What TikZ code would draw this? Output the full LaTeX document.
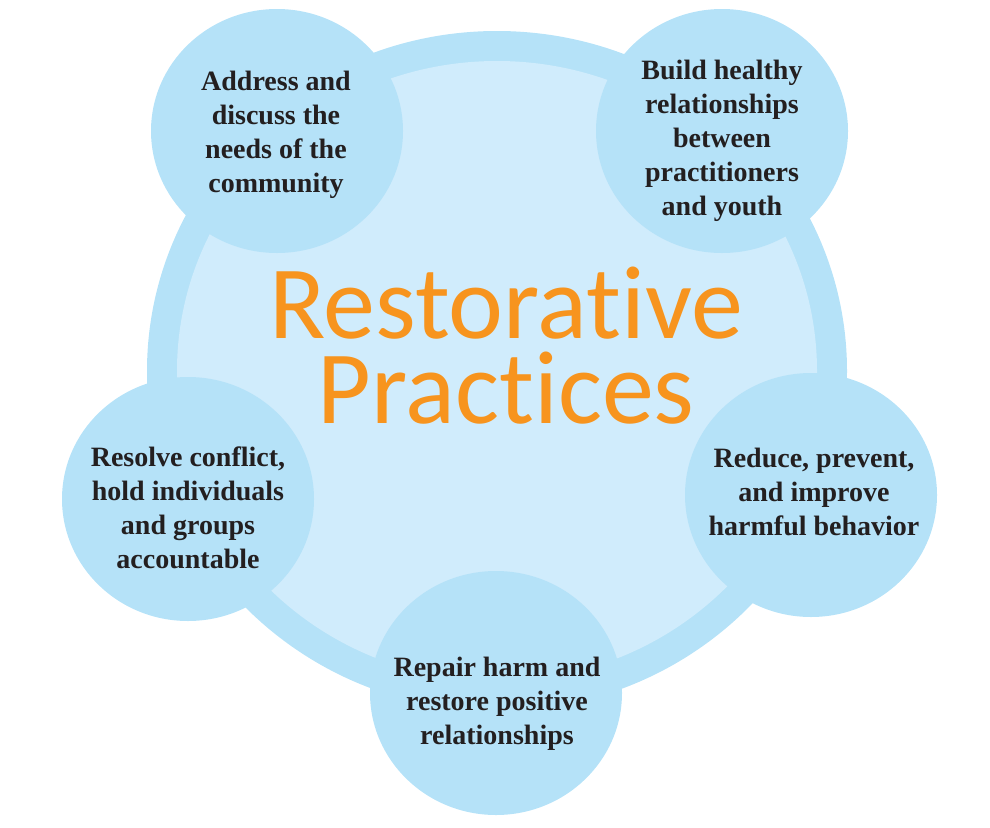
\documentclass[tikz,border=0pt]{standalone}
\usepackage{fontspec}
\setmainfont{Liberation Serif}
\newfontfamily\titlefont[Ligatures=NoCommon]{Carlito}
\usetikzlibrary{shapes.geometric}
\definecolor{ringblue}{HTML}{B5E2F8}
\definecolor{innerblue}{HTML}{D0ECFC}
\definecolor{titleorange}{HTML}{F7941E}
\definecolor{textdark}{HTML}{231F20}
\begin{document}
\begin{tikzpicture}[x=1pt,y=-1pt,
  bubble/.style={ellipse, fill=ringblue, draw=none, inner sep=0pt,
    minimum width=252pt, minimum height=244pt},
  bubbletext/.style={anchor=north, align=center, inner sep=0pt, text=textdark,
    font=\fontsize{28}{34}\selectfont\bfseries},
]
\useasboundingbox (0,0) rectangle (990,827);
% outer ring and inner disc
\node[ellipse, fill=ringblue, inner sep=0pt, minimum width=700pt, minimum height=680pt] (ring) at (497,371) {};
\node[ellipse, fill=innerblue, inner sep=0pt, minimum width=640pt, minimum height=620pt] (disc) at (497,371) {};
% bubbles
\node[bubble] (btl) at (277,131) {};
\node[bubble] (btr) at (722,131) {};
\node[bubble] (bl) at (188,499) {};
\node[bubble] (br) at (811,495) {};
\node[bubble] (bb) at (496,693) {};
% title
\node[anchor=north, align=center, inner sep=0pt, text=titleorange,
  font=\titlefont\fontsize{104}{85}\selectfont] (title) at (506,258) {\rule{0pt}{80pt}Restorative\\Practices};
% texts
\node[bubbletext] (ttl) at (276,66.9) {\strut Address and\\discuss the\\needs of the\\community};
\node[bubbletext] (ttr) at (722,55.5) {\strut Build healthy\\relationships\\between\\practitioners\\and youth};
\node[bubbletext] (tl) at (188,442.9) {\strut Resolve conflict,\\hold individuals\\and groups\\accountable};
\node[bubbletext] (tr) at (814,443.5) {\strut Reduce, prevent,\\and improve\\harmful behavior};
\node[bubbletext] (tb) at (497,652.9) {\strut Repair harm and\\restore positive\\relationships};
\end{tikzpicture}
\end{document}
